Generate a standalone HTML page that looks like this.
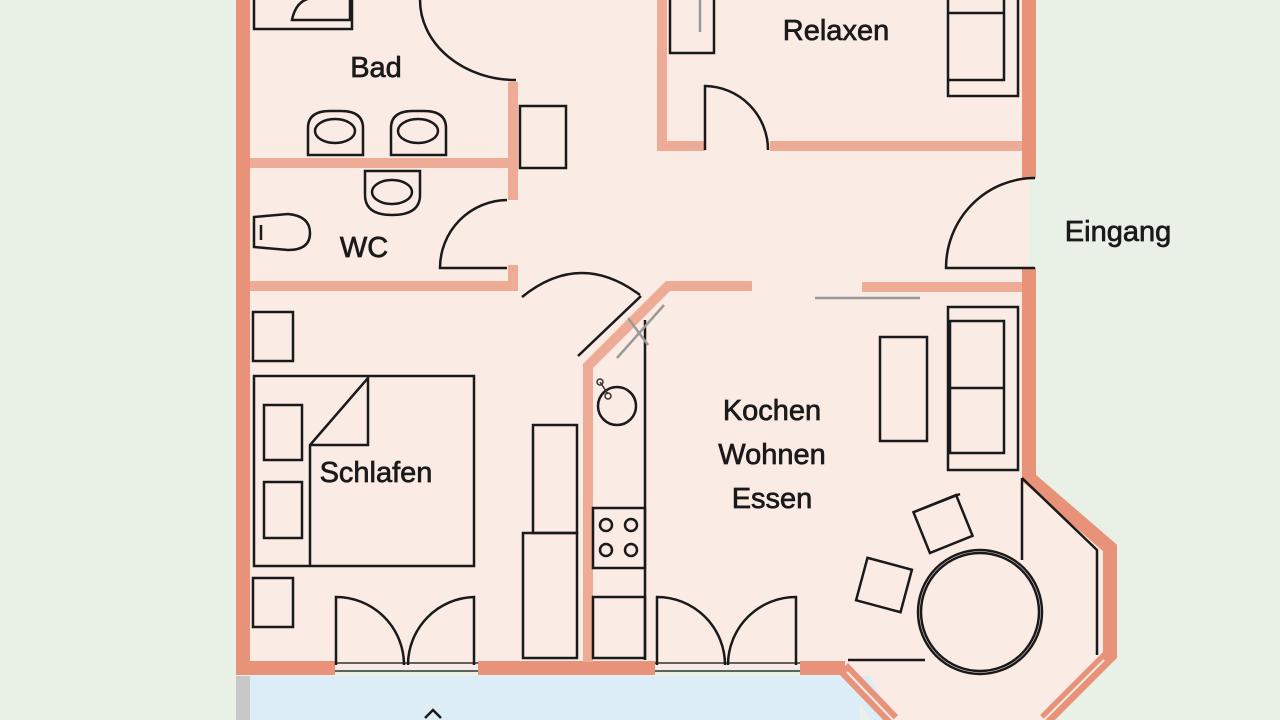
<!DOCTYPE html>
<html><head><meta charset="utf-8"><style>
html,body{margin:0;padding:0;background:#e9f1e6;}
svg{display:block;}
text{font-family:"Liberation Sans","DejaVu Sans",sans-serif;font-size:29px;fill:#1a1a1a;stroke:#1a1a1a;stroke-width:0.7;text-anchor:middle;}
</style></head><body>
<svg width="1280" height="720" viewBox="0 0 1280 720">
<rect width="1280" height="720" fill="#e9f1e6"/>
<polygon points="243,0 1029,0 1029,478 1110,548 1110,655 1045,720 893,720 840,668 243,668" fill="#fbebe5"/>
<rect x="250" y="676" width="610" height="44" fill="#dcedf8"/>
<polygon points="845,676 870,676 893,720 870,720" fill="#dcedf8"/>
<rect x="236" y="676" width="14" height="44" fill="#c8c8c8"/>
<g stroke="#e8927a" stroke-width="14" fill="none">
<line x1="243" y1="0" x2="243" y2="675"/>
<line x1="236" y1="668" x2="335" y2="668"/>
<line x1="478" y1="668" x2="655" y2="668"/>
<line x1="800" y1="668" x2="845" y2="668"/>
<line x1="1029" y1="0" x2="1029" y2="178"/>
<polyline points="1029,268 1029,478 1110,548 1110,655 1045,720"/>
<line x1="843" y1="668" x2="893" y2="720"/>
</g>
<g stroke="#fbebe5" stroke-width="2" fill="none">
<line x1="847" y1="672" x2="893" y2="720"/>
<line x1="1104" y1="660" x2="1044" y2="720"/>
</g>
<g stroke="#eeab95" stroke-width="10" fill="none">
<line x1="250" y1="163" x2="518" y2="163"/>
<line x1="513" y1="82" x2="513" y2="200"/>
<line x1="513" y1="265" x2="513" y2="291"/>
<line x1="250" y1="286" x2="518" y2="286"/>
<line x1="662" y1="0" x2="662" y2="150"/>
<line x1="657" y1="146" x2="705" y2="146"/>
<line x1="770" y1="146" x2="1022" y2="146"/>
<polyline points="752,286 668,286 588,366 588,662"/>
<line x1="862" y1="287" x2="1022" y2="287"/>
</g>
<g stroke="#333" stroke-width="1.5">
<line x1="335" y1="663" x2="478" y2="663"/><line x1="335" y1="671" x2="478" y2="671"/>
<line x1="655" y1="663" x2="800" y2="663"/><line x1="655" y1="671" x2="800" y2="671"/>
</g>
<g stroke="#1a1a1a" stroke-width="2.5" fill="none">
<rect x="254" y="-5" width="98" height="34"/>
<path d="M292,20 Q296,0 312,-2 L350,-2 L350,20 Z"/>
<path d="M420,0 A96,80 0 0,0 516,80"/>
<path d="M308,155 L308,128 Q308,111 330,111 L341,111 Q363,111 363,128 L363,155 Z"/><ellipse cx="335" cy="131" rx="20" ry="12"/>
<path d="M391,155 L391,128 Q391,111 413,111 L424,111 Q446,111 446,128 L446,155 Z"/><ellipse cx="418" cy="131" rx="20" ry="12"/>
<path d="M365,171 L365,195 Q365,215 392,215 Q420,215 420,195 L420,171 Z"/><ellipse cx="392" cy="192" rx="20" ry="12"/>
<path d="M254,217 L288,214 Q310,216 310,233 Q310,250 288,250 L254,247 Z"/><line x1="261" y1="225" x2="261" y2="240"/>
<rect x="520" y="106" width="46" height="62"/>
<path d="M507,200 A68,68 0 0,0 440,268 L507,268"/>
<path d="M522,297 Q580,250 640,295"/>
<line x1="641" y1="296" x2="578" y2="356"/>
<line x1="645" y1="320" x2="645" y2="660"/>
<circle cx="617" cy="406" r="19"/>
<rect x="593" y="508" width="52" height="60"/>
<circle cx="606" cy="525" r="6"/><circle cx="631" cy="525" r="6"/><circle cx="606" cy="550" r="6"/><circle cx="631" cy="550" r="6"/>
<rect x="593" y="597" width="52" height="61"/>
<rect x="533" y="425" width="44" height="108"/>
<rect x="523" y="533" width="54" height="125"/>
<rect x="253" y="312" width="40" height="49"/>
<rect x="254" y="376" width="220" height="190"/>
<polyline points="310,566 310,445 368,378 368,445 310,445"/>
<rect x="264" y="405" width="38" height="55"/>
<rect x="264" y="482" width="38" height="56"/>
<rect x="253" y="578" width="40" height="49"/>
<path d="M336,665 L336,597 A68,68 0 0,1 404,665"/>
<path d="M474,665 L474,597 A68,68 0 0,0 408,665"/>
<path d="M657,665 L657,597 A68,68 0 0,1 725,665"/>
<path d="M796,665 L796,597 A68,68 0 0,0 728,665"/>
<rect x="670" y="-5" width="44" height="58"/>
<rect x="948" y="-5" width="70" height="101"/>
<polyline points="948,80 1004,80 1004,-5"/><line x1="948" y1="13" x2="1004" y2="13"/>
<path d="M705,150 L705,86 A64,64 0 0,1 768,150"/>
<path d="M1035,178 A89,90 0 0,0 946,268 L1035,268"/>
<rect x="948" y="307" width="70" height="163"/>
<rect x="950" y="321" width="54" height="132"/><line x1="950" y1="388" x2="1004" y2="388"/>
<rect x="880" y="337" width="47" height="104"/>
<rect x="920" y="502" width="46" height="44" transform="rotate(-22 943 524)"/>
<line x1="914" y1="512" x2="960" y2="494" />
<rect x="861" y="563" width="46" height="44" transform="rotate(15 884 585)"/>
<circle cx="980" cy="612" r="59"/><circle cx="980" cy="612" r="62"/>
<polyline points="1022,478 1097,550 1097,655"/>
<line x1="1022" y1="478" x2="1022" y2="560"/>
<line x1="848" y1="660" x2="925" y2="660"/>
<path d="M425,718 L433,710 L441,718"/>
</g>
<g stroke="#999" stroke-width="2.5">
<line x1="700" y1="0" x2="700" y2="32"/>
<line x1="617" y1="358" x2="664" y2="305"/>
<line x1="628" y1="318" x2="648" y2="345"/>
<line x1="815" y1="298" x2="920" y2="298"/>
</g>
<g stroke="#333" stroke-width="1.5" fill="none"><line x1="600" y1="382" x2="608" y2="394"/><circle cx="600" cy="382" r="3"/><circle cx="608" cy="396" r="3"/></g>
<text x="376" y="77">Bad</text>
<text x="836" y="40">Relaxen</text>
<text x="1118" y="241">Eingang</text>
<text x="364" y="257">WC</text>
<text x="376" y="482">Schlafen</text>
<text x="772" y="420">Kochen</text>
<text x="772" y="464">Wohnen</text>
<text x="772" y="508">Essen</text>
</svg>
</body></html>
